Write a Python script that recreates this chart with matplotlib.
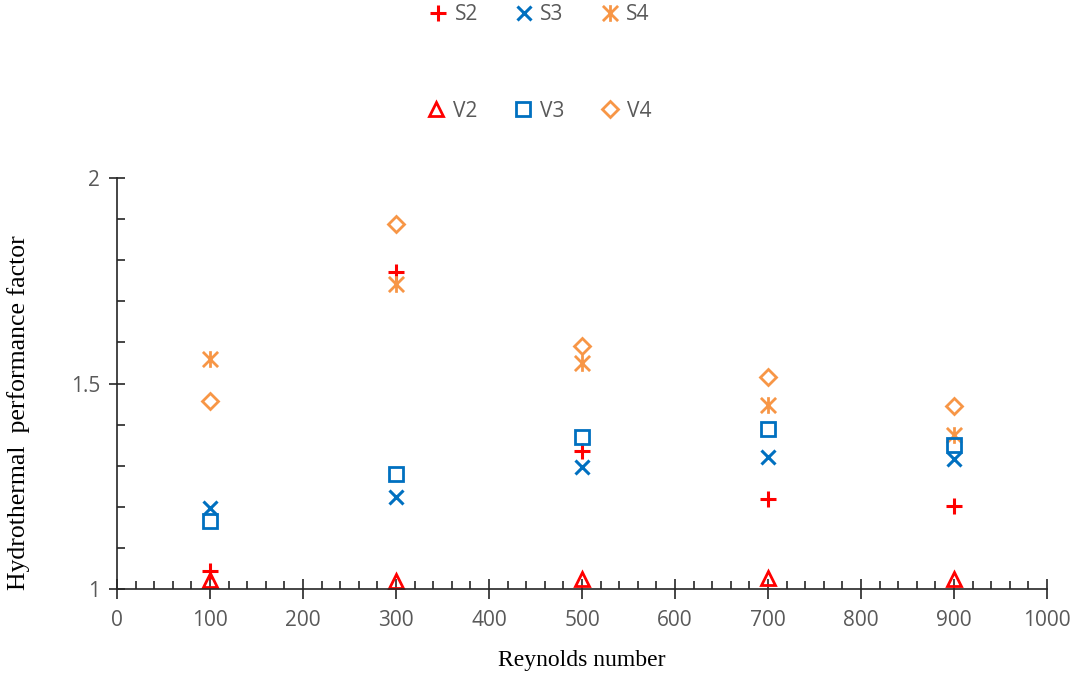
import numpy as np
import matplotlib.pyplot as plt
from matplotlib.path import Path
from matplotlib.ticker import MultipleLocator

# Reynolds number and hydrothermal performance factor for each case
re = [100, 300, 500, 700, 900]
s2 = [1.044, 1.771, 1.336, 1.219, 1.202]
s3 = [1.197, 1.224, 1.297, 1.321, 1.316]
s4 = [1.560, 1.742, 1.550, 1.448, 1.375]
v2 = [1.022, 1.020, 1.024, 1.027, 1.024]
v3 = [1.165, 1.280, 1.370, 1.389, 1.350]
v4 = [1.457, 1.888, 1.591, 1.516, 1.445]

red = '#FF0000'
blue = '#0070C0'
orange = '#F79646'
grey = '#595959'

# Excel-like "star" marker: an x with a vertical bar
star = Path([(-1, -1), (1, 1), (-1, 1), (1, -1), (0, -1.1), (0, 1.1)],
            [Path.MOVETO, Path.LINETO, Path.MOVETO, Path.LINETO, Path.MOVETO, Path.LINETO])

fig = plt.figure(figsize=(10.75, 6.77), dpi=100)
ax = fig.add_axes([0.1088, 0.130, 0.8652, 0.607])

kw = dict(linestyle='none', markersize=10, markeredgewidth=2, fillstyle='none')
h_s2, = ax.plot(re, s2, marker='+', color=red, label='S2', markersize=12, markeredgewidth=2.2,
                linestyle='none')
h_s3, = ax.plot(re, s3, marker='x', color=blue, label='S3', markersize=10, markeredgewidth=2.2,
                linestyle='none')
h_s4, = ax.plot(re, s4, marker=star, color=orange, label='S4', markersize=12, markeredgewidth=2,
                linestyle='none')
h_v2, = ax.plot(re, v2, marker='^', color=red, label='V2', **kw)
h_v3, = ax.plot(re, v3, marker='s', color=blue, label='V3', **kw)
h_v4, = ax.plot(re, v4, marker='D', color=orange, label='V4', markersize=8.5,
                markeredgewidth=2, fillstyle='none', linestyle='none')

ax.set_xlim(0, 1000)
ax.set_ylim(1, 2)
ax.xaxis.set_major_locator(MultipleLocator(100))
ax.xaxis.set_minor_locator(MultipleLocator(20))
ax.yaxis.set_minor_locator(MultipleLocator(0.1))
ax.set_yticks([1, 1.5, 2])
ax.set_yticklabels(['1', '1.5', '2'])

ax.spines['top'].set_visible(False)
ax.spines['right'].set_visible(False)
for s in ['left', 'bottom']:
    ax.spines[s].set_color('#262626')
    ax.spines[s].set_linewidth(1.2)

ax.tick_params(axis='x', which='major', direction='inout', length=14, width=1.2,
               color='#262626', labelcolor=grey, labelsize=15, pad=8)
ax.tick_params(axis='x', which='minor', direction='in', length=6, width=1.2, color='#262626')
ax.tick_params(axis='y', which='major', direction='inout', length=12, width=1.2,
               color='#262626', labelcolor=grey, labelsize=15, pad=6)
ax.tick_params(axis='y', which='minor', direction='in', length=6, width=1.2, color='#262626')
for lab in ax.get_xticklabels() + ax.get_yticklabels():
    lab.set_family(['Open Sans', 'DejaVu Sans'])

ax.set_xlabel('Reynolds number', family='Liberation Serif', fontsize=17, labelpad=14)
ax.set_ylabel('Hydrothermal  performance factor', family='Liberation Serif', fontsize=18.5)
ax.yaxis.set_label_coords(-0.094, 0.43)

leg_kw = dict(ncol=3, frameon=False, labelcolor=grey, handletextpad=0.2,
              columnspacing=1.6, handlelength=1.2, loc='center',
              prop={'family': ['Open Sans', 'DejaVu Sans'], 'size': 15})
fig.legend(handles=[h_s2, h_s3, h_s4], bbox_to_anchor=(0.5, 0.978), **leg_kw)
fig.legend(handles=[h_v2, h_v3, h_v4], bbox_to_anchor=(0.5, 0.836), **leg_kw)

fig.savefig('out.png', dpi=100)
